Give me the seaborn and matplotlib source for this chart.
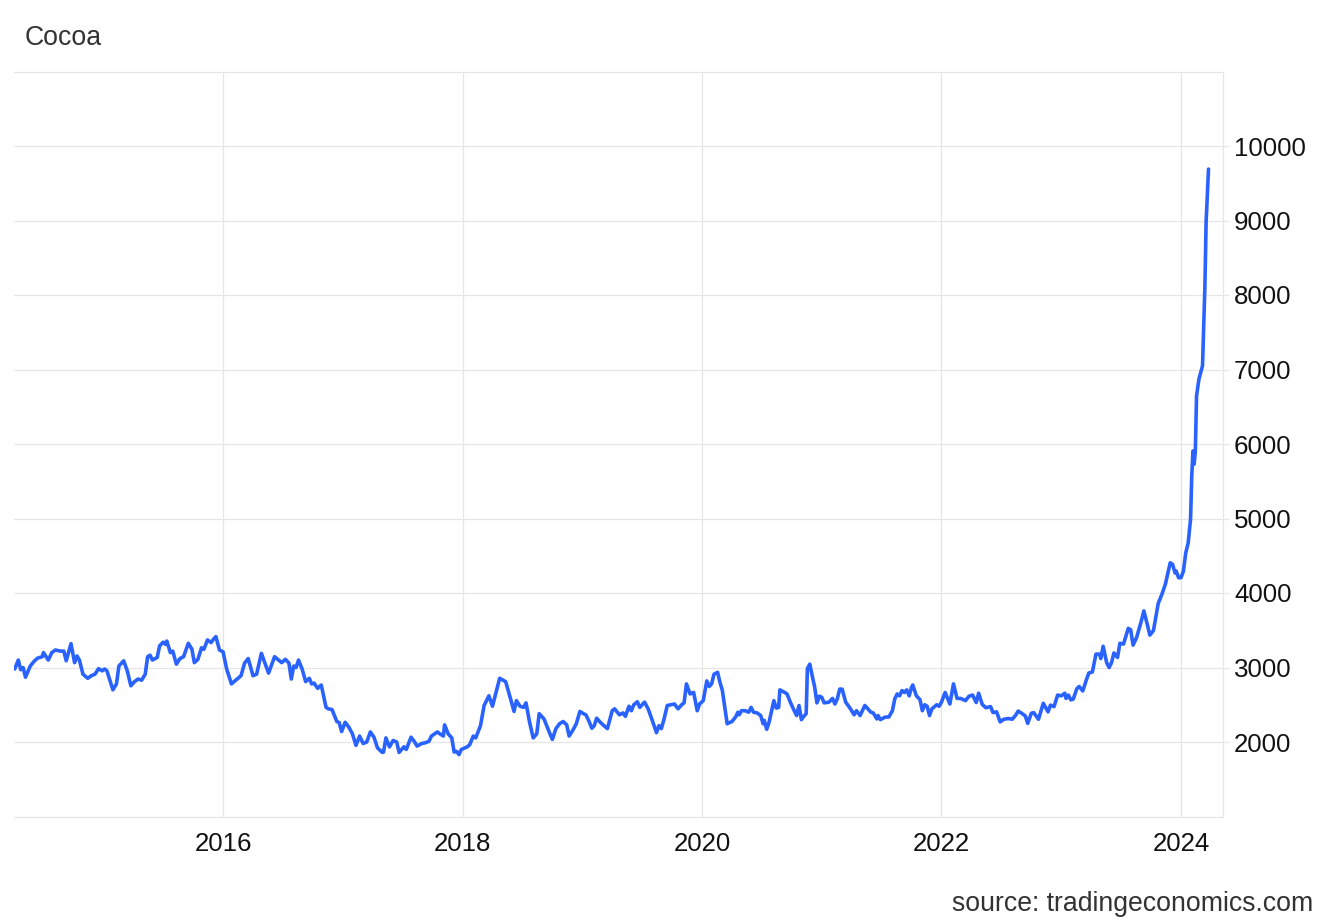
import numpy as np
import pandas as pd
import matplotlib.pyplot as plt
import seaborn as sns

# Cocoa price (USD/t); x in decimal years
years = [
    2014.26, 2014.29, 2014.31, 2014.33, 2014.35, 2014.39, 2014.42, 2014.45, 2014.49, 2014.50,
    2014.54, 2014.57, 2014.60, 2014.64, 2014.67, 2014.69, 2014.73, 2014.76, 2014.78, 2014.80,
    2014.83, 2014.87, 2014.90, 2014.93, 2014.96, 2014.99, 2015.01, 2015.03, 2015.08, 2015.11,
    2015.13, 2015.17, 2015.20, 2015.23, 2015.26, 2015.29, 2015.32, 2015.35, 2015.37, 2015.39,
    2015.41, 2015.45, 2015.47, 2015.50, 2015.52, 2015.53, 2015.56, 2015.58, 2015.61, 2015.64,
    2015.67, 2015.71, 2015.74, 2015.76, 2015.79, 2015.82, 2015.84, 2015.87, 2015.90, 2015.92,
    2015.94, 2015.97, 2016.00, 2016.03, 2016.07, 2016.11, 2016.15, 2016.18, 2016.21,
    2016.25, 2016.28, 2016.32, 2016.38, 2016.43, 2016.49, 2016.52, 2016.55, 2016.57, 2016.59,
    2016.61, 2016.63, 2016.66, 2016.69, 2016.72, 2016.74, 2016.76, 2016.79, 2016.82, 2016.86,
    2016.88, 2016.91, 2016.95, 2016.97, 2016.99, 2017.02, 2017.05, 2017.08, 2017.11, 2017.14,
    2017.17, 2017.20, 2017.23, 2017.26, 2017.29, 2017.33, 2017.34, 2017.36, 2017.39, 2017.42,
    2017.45, 2017.47, 2017.51, 2017.53, 2017.57, 2017.60, 2017.62, 2017.66, 2017.69, 2017.72,
    2017.74, 2017.79, 2017.81, 2017.84, 2017.85, 2017.88, 2017.91, 2017.93, 2017.95, 2017.97,
    2017.99, 2018.04, 2018.06, 2018.09, 2018.11, 2018.15,
    2018.18, 2018.22, 2018.25, 2018.28, 2018.31, 2018.35, 2018.36, 2018.40, 2018.43, 2018.45,
    2018.48, 2018.51, 2018.53, 2018.56, 2018.59, 2018.62, 2018.64, 2018.68, 2018.70, 2018.73,
    2018.75, 2018.78, 2018.81, 2018.84, 2018.87, 2018.89, 2018.92, 2018.95, 2018.98, 2019.01,
    2019.03, 2019.05, 2019.08, 2019.10, 2019.12, 2019.15, 2019.18, 2019.21, 2019.25, 2019.27,
    2019.31, 2019.34, 2019.36, 2019.39, 2019.41, 2019.43, 2019.46, 2019.48, 2019.52, 2019.55,
    2019.58, 2019.62, 2019.64, 2019.66, 2019.68, 2019.71, 2019.74, 2019.77, 2019.80, 2019.83,
    2019.85, 2019.87, 2019.90, 2019.92, 2019.93, 2019.96, 2019.98, 2020.01, 2020.04, 2020.06,
    2020.08, 2020.10, 2020.13, 2020.15, 2020.17, 2020.21,
    2020.25, 2020.28, 2020.30, 2020.31, 2020.33, 2020.36, 2020.39, 2020.41, 2020.43, 2020.46,
    2020.49, 2020.51, 2020.52, 2020.54, 2020.56, 2020.60, 2020.62, 2020.64, 2020.65, 2020.69,
    2020.71, 2020.74, 2020.77, 2020.79, 2020.81, 2020.83, 2020.85, 2020.87, 2020.88, 2020.90,
    2020.92, 2020.94, 2020.96, 2020.98, 2021.00, 2021.02, 2021.06, 2021.09, 2021.11, 2021.13,
    2021.15, 2021.17, 2021.20, 2021.24, 2021.27, 2021.29, 2021.32, 2021.36, 2021.38, 2021.41,
    2021.43, 2021.46, 2021.47, 2021.49, 2021.53, 2021.56, 2021.59, 2021.61, 2021.63, 2021.65,
    2021.67, 2021.69, 2021.71, 2021.73, 2021.75, 2021.76, 2021.79, 2021.82, 2021.84, 2021.86,
    2021.88, 2021.90, 2021.92, 2021.96, 2021.98, 2022.00, 2022.03, 2022.07, 2022.10, 2022.13,
    2022.16, 2022.20, 2022.23,
    2022.26, 2022.29, 2022.31, 2022.34, 2022.37, 2022.41, 2022.43, 2022.46, 2022.49, 2022.52,
    2022.56, 2022.59, 2022.62, 2022.64, 2022.67, 2022.70, 2022.72, 2022.75, 2022.77, 2022.81,
    2022.85, 2022.89, 2022.91, 2022.94, 2022.97, 2023.00, 2023.03, 2023.04, 2023.06, 2023.08,
    2023.10, 2023.13, 2023.15, 2023.18, 2023.21, 2023.23, 2023.26, 2023.29, 2023.32, 2023.33,
    2023.35, 2023.38, 2023.40, 2023.42, 2023.44, 2023.47, 2023.49, 2023.52, 2023.56, 2023.58,
    2023.60, 2023.63, 2023.66, 2023.67, 2023.69, 2023.72, 2023.74, 2023.77, 2023.81, 2023.84,
    2023.87, 2023.91, 2023.93, 2023.95, 2023.96, 2023.98, 2024.00, 2024.02, 2024.04, 2024.06,
    2024.08, 2024.09, 2024.10, 2024.11, 2024.12, 2024.13, 2024.15, 2024.18, 2024.20, 2024.21,
    2024.23,
]
prices = [
    2980, 3100, 2970, 3000, 2870, 3020, 3080, 3125, 3145, 3200,
    3100, 3200, 3235, 3220, 3220, 3090, 3320, 3065, 3155, 3100,
    2910, 2855, 2890, 2910, 2985, 2955, 2980, 2955, 2700, 2780,
    3020, 3090, 2955, 2755, 2810, 2845, 2830, 2910, 3145, 3165,
    3100, 3135, 3290, 3340, 3310, 3355, 3200, 3220, 3045, 3120,
    3145, 3325, 3245, 3065, 3110, 3265, 3245, 3370, 3335, 3380,
    3415, 3235, 3210, 2980, 2780, 2835, 2890, 3060, 3120,
    2890, 2910, 3190, 2925, 3145, 3065, 3110, 3060, 2845, 3020,
    3000, 3100, 2980, 2810, 2855, 2780, 2790, 2720, 2765, 2465,
    2445, 2435, 2275, 2260, 2140, 2265, 2200, 2110, 1955, 2080,
    1980, 2000, 2135, 2065, 1920, 1860, 1865, 2055, 1935, 2020,
    2000, 1860, 1935, 1900, 2065, 2000, 1945, 1980, 1990, 2010,
    2080, 2135, 2110, 2080, 2230, 2110, 2055, 1865, 1875, 1830,
    1900, 1935, 1965, 2080, 2055, 2220,
    2490, 2620, 2480, 2665, 2855, 2820, 2810, 2585, 2410, 2555,
    2480, 2465, 2525, 2265, 2055, 2110, 2380, 2310, 2230, 2110,
    2035, 2180, 2245, 2275, 2230, 2080, 2155, 2245, 2410, 2380,
    2365, 2300, 2185, 2220, 2320, 2265, 2220, 2180, 2420, 2445,
    2365, 2390, 2345, 2480, 2420, 2500, 2540, 2465, 2535, 2445,
    2310, 2125, 2220, 2180, 2290, 2490, 2500, 2510, 2445, 2500,
    2525, 2780, 2645, 2660, 2665, 2420, 2510, 2555, 2820, 2745,
    2780, 2910, 2935, 2800, 2690, 2245,
    2275, 2335, 2400, 2365, 2420, 2420, 2400, 2465, 2400, 2390,
    2355, 2245, 2290, 2170, 2265, 2555, 2455, 2465, 2700, 2665,
    2645, 2525, 2420, 2355, 2490, 2300, 2345, 2380, 2985, 3045,
    2890, 2745, 2525, 2615, 2600, 2525, 2535, 2585, 2510, 2580,
    2710, 2710, 2535, 2445, 2365, 2420, 2355, 2490, 2455, 2400,
    2390, 2310, 2355, 2300, 2335, 2335, 2420, 2580, 2645, 2620,
    2690, 2665, 2700, 2620, 2735, 2765, 2620, 2570, 2420, 2500,
    2480, 2355, 2445, 2500, 2480, 2535, 2665, 2510, 2780, 2585,
    2585, 2555, 2615,
    2630, 2530, 2655, 2505, 2460, 2475, 2395, 2405, 2270, 2305,
    2315, 2305, 2360, 2415, 2385, 2350, 2250, 2385, 2395, 2305,
    2520, 2405, 2495, 2475, 2630, 2620, 2655, 2585, 2630, 2565,
    2575, 2715, 2745, 2685, 2835, 2925, 2940, 3180, 3180, 3120,
    3285, 3060, 3000, 3065, 3195, 3135, 3325, 3315, 3525, 3505,
    3300, 3405, 3570, 3630, 3760, 3570, 3435, 3495, 3860, 3980,
    4120, 4405, 4385, 4270, 4295, 4205, 4205, 4290, 4540, 4670,
    4990, 5570, 5905, 5730, 5905, 6645, 6870, 7050, 8125, 8980,
    9690,
]
year_ticks = [2016, 2018, 2020, 2022, 2024]
year_labels = ['2016', '2018', '2020', '2022', '2024']
price_ticks = [2000, 3000, 4000, 5000, 6000, 7000, 8000, 9000, 10000]

df = pd.DataFrame({'year': years, 'price': prices})

sns.set_style('white')
plt.rcParams['font.family'] = ['Liberation Sans', 'DejaVu Sans']

grid_c = '#e6e6e6'
fig = plt.figure(figsize=(13.32, 9.24), dpi=100)
ax = fig.add_axes([14 / 1332, 1 - 816.5 / 924, (1223 - 14) / 1332, (816.5 - 71.5) / 924])

sns.lineplot(data=df, x='year', y='price', ax=ax, color='#2962ff', linewidth=2.6,
             estimator=None, errorbar=None)

ax.set_xlim(2014.254, 2024.351)
ax.set_ylim(1000, 11000)
ax.set_xticks(year_ticks)
ax.set_xticklabels(year_labels)
ax.set_yticks(price_ticks)
ax.set_yticklabels([str(v) for v in price_ticks])
ax.yaxis.tick_right()
ax.set_xlabel('')
ax.set_ylabel('')

ax.grid(True, color=grid_c, linewidth=0.9)
ax.set_axisbelow(True)
ax.spines['left'].set_visible(False)
for side in ['top', 'right', 'bottom']:
    ax.spines[side].set_visible(True)
    ax.spines[side].set_color(grid_c)
    ax.spines[side].set_linewidth(0.9)

ax.tick_params(axis='x', length=0, pad=11, labelsize=18.6, labelcolor='#111111')
ax.tick_params(axis='y', which='both', right=True, left=False, length=4, width=0.9,
               color=grid_c, pad=4, labelsize=18.6, labelcolor='#111111')

fig.text(25 / 1332, 1 - 45 / 924, 'Cocoa', fontsize=19.2, color='#333333',
         ha='left', va='baseline')
fig.text(1313 / 1332, 1 - 911 / 924, 'source: tradingeconomics.com', fontsize=19.2,
         color='#333333', ha='right', va='baseline')

plt.savefig('out.png', dpi=100)
plt.close()
